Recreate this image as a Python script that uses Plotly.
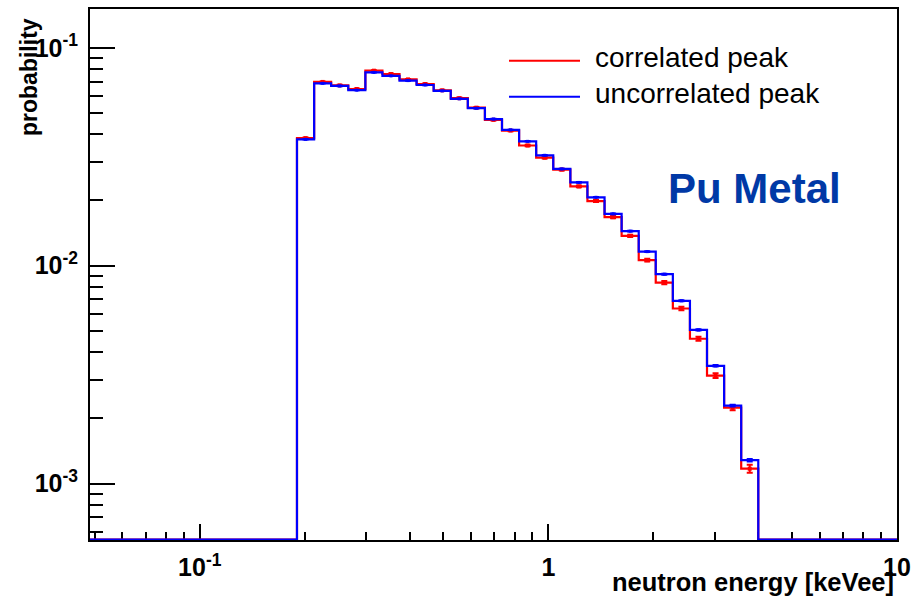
import numpy as np
import plotly.graph_objects as go

# Log-spaced energy bin edges [keVee]
bin_edges = [0.1900, 0.2128, 0.2381, 0.2666, 0.2985, 0.3341, 0.3740, 0.4187,
             0.4687, 0.5247, 0.5873, 0.6575, 0.7360, 0.8240, 0.9224, 1.0325,
             1.156, 1.294, 1.449, 1.622, 1.816, 2.032, 2.275, 2.547, 2.851,
             3.192, 3.573, 4.000]

# Normalised bin contents
correlated = [0.0385, 0.0697, 0.0672, 0.0647, 0.0785, 0.0758, 0.0716, 0.0682,
              0.0638, 0.0587, 0.0531, 0.0467, 0.0417, 0.0356, 0.0313, 0.0276,
              0.0231, 0.0198, 0.0167, 0.0137, 0.0106, 0.00836, 0.00636,
              0.00462, 0.00313, 0.00223, 0.00117]
correlated_err = [0.00029, 0.00039, 0.00038, 0.00037, 0.00041, 0.00040, 0.00039,
                  0.00038, 0.00037, 0.00036, 0.00034, 0.00032, 0.00030, 0.00028,
                  0.00026, 0.00024, 0.00022, 0.00021, 0.00019, 0.00017, 0.00015,
                  0.000135, 0.000117, 0.00010, 0.000082, 0.00006, 0.00005]

uncorrelated = [0.0380, 0.0687, 0.0668, 0.0639, 0.0771, 0.0743, 0.0707, 0.0675,
                0.0634, 0.0583, 0.0528, 0.0471, 0.0420, 0.0372, 0.0321, 0.0278,
                0.0241, 0.0206, 0.0173, 0.0144, 0.0116, 0.00914, 0.00690,
                0.00507, 0.00347, 0.00228, 0.00128]
uncorrelated_err = [0.00010, 0.00013, 0.00013, 0.00012, 0.00014, 0.00013, 0.00013,
                    0.00013, 0.00012, 0.00012, 0.00011, 0.00011, 0.00010, 0.000095,
                    0.00009, 0.000085, 0.00008, 0.00007, 0.000065, 0.00006,
                    0.000053, 0.000047, 0.00004, 0.000034, 0.000028, 0.000022,
                    0.000017]

x_ticks = [0.1, 1, 10]
x_ticktext = ["10<sup>-1</sup>", "1", "10"]
y_ticks = [1e-3, 1e-2, 1e-1]
y_ticktext = ["10<sup>-3</sup>", "10<sup>-2</sup>", "10<sup>-1</sup>"]

X_RANGE = [-1.315, 1.0]        # log10 of the energy axis limits
Y_RANGE = [-3.259, -0.822]     # log10 of the probability axis limits

x_lo, x_hi = 10 ** X_RANGE[0], 10 ** X_RANGE[1]
y_floor = 10 ** (Y_RANGE[0] + 0.002)


def step_outline(edges, values):
    """Histogram outline, with empty bins resting on the bottom of the frame."""
    xs = [x_lo, edges[0]]
    ys = [y_floor, y_floor]
    for i, v in enumerate(values):
        xs += [edges[i], edges[i + 1]]
        ys += [v, v]
    xs += [edges[-1], x_hi]
    ys += [y_floor, y_floor]
    return xs, ys


edges = np.array(bin_edges)
centers = np.sqrt(edges[:-1] * edges[1:])

RED = "#ff0000"
BLUE = "#0000ff"

fig = go.Figure()

for vals, errs, col, msize in [(correlated, correlated_err, RED, 4),
                               (uncorrelated, uncorrelated_err, BLUE, 3)]:
    sx, sy = step_outline(bin_edges, vals)
    fig.add_trace(go.Scatter(x=sx, y=sy, mode="lines",
                             line=dict(color=col, width=2.2, shape="linear"),
                             hoverinfo="skip", showlegend=False))
    fig.add_trace(go.Scatter(x=centers, y=vals, mode="markers",
                             marker=dict(color=col, size=msize, symbol="square",
                                         line=dict(width=0)),
                             error_y=dict(type="data", array=errs, visible=True,
                                          color=col, thickness=2, width=3),
                             showlegend=False))

minor_x = [m * 10.0 ** d for d in (-2, -1, 0) for m in range(2, 10)]
minor_x = [v for v in minor_x if x_lo <= v <= x_hi]
minor_y = [m * 10.0 ** d for d in (-4, -3, -2, -1) for m in range(2, 10)]
minor_y = [v for v in minor_y if 10 ** Y_RANGE[0] <= v <= 10 ** Y_RANGE[1]]

tick_font = dict(family="Liberation Sans, Arial, sans-serif", size=25,
                 color="black", weight="bold")

fig.update_xaxes(type="log", range=X_RANGE, showgrid=False, zeroline=False,
                 showline=True, linecolor="black", linewidth=2, mirror=True,
                 ticks="inside", ticklen=16, tickwidth=2, tickcolor="black",
                 tickmode="array", tickvals=x_ticks, ticktext=x_ticktext,
                 tickfont=tick_font, ticklabelstandoff=4, layer="below traces",
                 minor=dict(tickmode="array", tickvals=minor_x, ticks="inside",
                            ticklen=8, tickwidth=2, tickcolor="black",
                            showgrid=False))
fig.update_yaxes(type="log", range=Y_RANGE, showgrid=False, zeroline=False,
                 showline=True, linecolor="black", linewidth=2, mirror=True,
                 ticks="inside", ticklen=25, tickwidth=2, tickcolor="black",
                 tickmode="array", tickvals=y_ticks, ticktext=y_ticktext,
                 tickfont=tick_font, ticklabelstandoff=5, layer="below traces",
                 minor=dict(tickmode="array", tickvals=minor_y, ticks="inside",
                            ticklen=13, tickwidth=2, tickcolor="black",
                            showgrid=False))

L, R, T, B = 90, 25, 7, 56
W, H = 922, 596
pw, ph = W - L - R, H - T - B


def px_x(p):
    return (p - L) / pw


def px_y(p):
    return (H - B - p) / ph


title_font = dict(family="Liberation Sans, Arial, sans-serif", size=25.5,
                  color="black", weight="bold")
legend_font = dict(family="Liberation Sans, Arial, sans-serif", size=28,
                   color="black")

annotations = [
    dict(text="neutron energy [keVee]", xref="paper", yref="paper",
         x=px_x(896), y=px_y(582), xanchor="right", yanchor="middle",
         showarrow=False, font=title_font),
    dict(text="probability", xref="paper", yref="paper", textangle=-90,
         x=px_x(29), y=px_y(14), xanchor="center", yanchor="top",
         showarrow=False, font=dict(title_font, size=23)),
    dict(text="Pu Metal", xref="paper", yref="paper",
         x=px_x(666), y=px_y(187), xanchor="left", yanchor="middle",
         showarrow=False,
         font=dict(family="Liberation Sans, Arial, sans-serif",
                   size=42, color="#0039a6", weight="bold")),
]
shapes = []
for label, col, yp in [("correlated peak", RED, 59), ("uncorrelated peak", BLUE, 95)]:
    shapes.append(dict(type="line", xref="paper", yref="paper",
                       x0=px_x(509), x1=px_x(580), y0=px_y(yp), y1=px_y(yp),
                       line=dict(color=col, width=2)))
    annotations.append(dict(text=label, xref="paper", yref="paper",
                            x=px_x(593), y=px_y(yp - 3), xanchor="left",
                            yanchor="middle", showarrow=False, font=legend_font))

fig.update_layout(width=W, height=H, margin=dict(l=L, r=R, t=T, b=B),
                  paper_bgcolor="white", plot_bgcolor="white",
                  annotations=annotations, shapes=shapes, showlegend=False)

fig.write_html("out.html")
